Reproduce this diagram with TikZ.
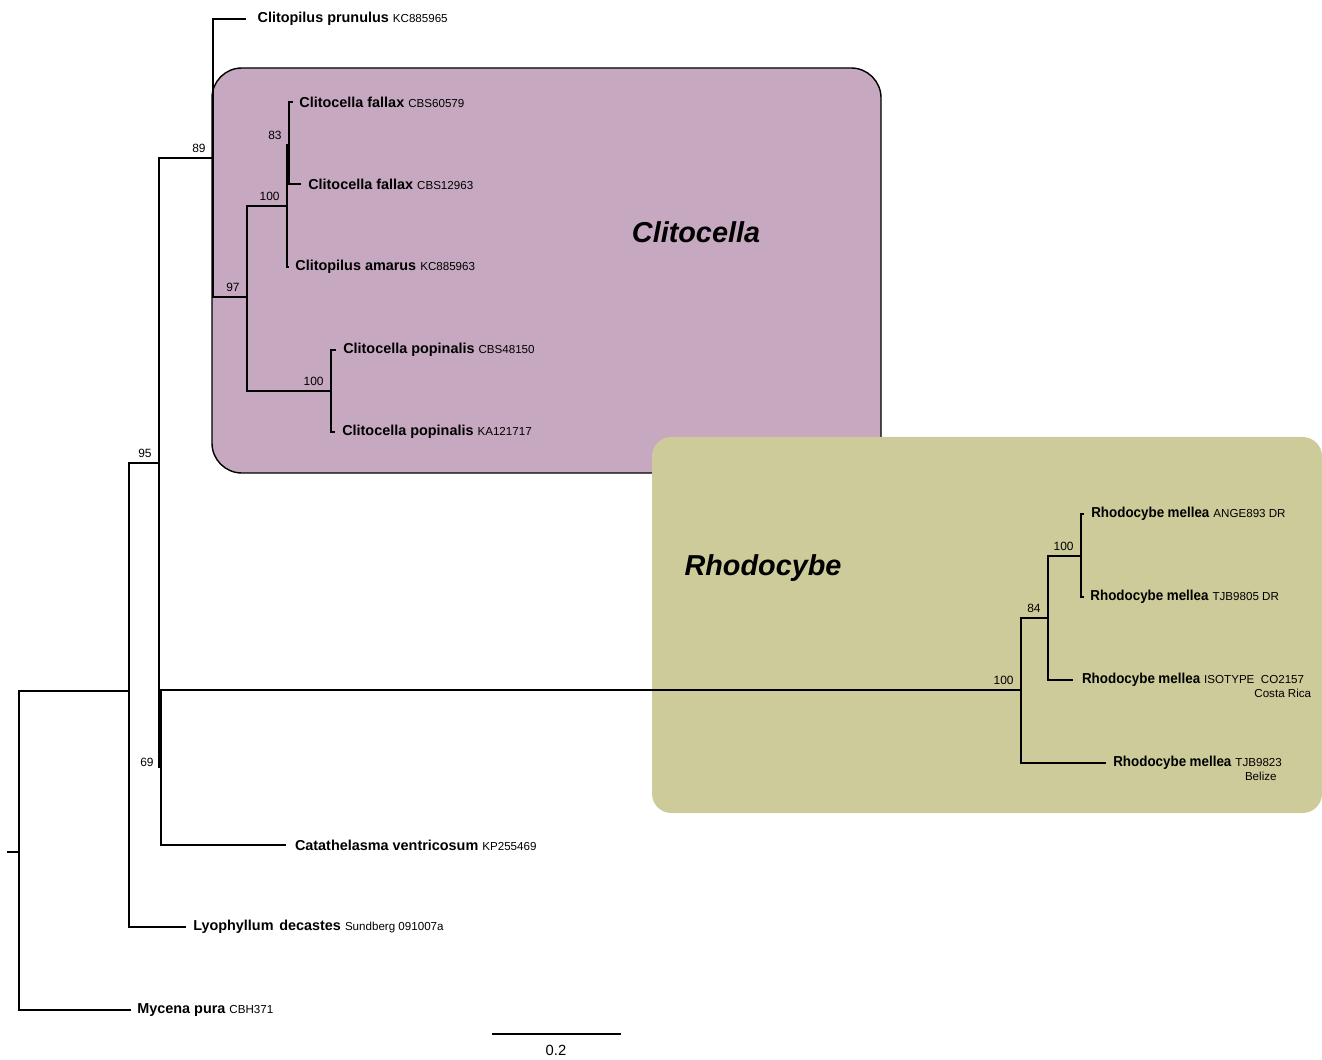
\documentclass[tikz,border=0pt]{standalone}
\usepackage{fontspec}
\setmainfont{Liberation Sans}
\newfontfamily\rhodofont[FakeStretch=0.93]{Liberation Sans}
\usepackage{tikz}
\usetikzlibrary{positioning}
\definecolor{clitofill}{RGB}{198,169,192}
\definecolor{rhodofill}{RGB}{204,203,153}
\newcommand{\acc}[1]{{\mdseries\fontsize{6.6}{7}\selectfont #1}}
\newcommand{\rmel}{{\rhodofont\bfseries Rhodocybe\hspace{2pt}mellea}}
\tikzstyle{branch}=[%
      draw=black, line width=0.8pt, line cap=rect, to path={|- (\tikztotarget) \tikztonodes}
]
\tikzstyle{taxon}=[%
      inner sep=0pt, font=\fontsize{8.2}{9}\selectfont\bfseries
]
\tikzstyle{bs}=[%
      inner sep=0pt, font=\fontsize{6.8}{7}\selectfont, anchor=south east, xshift=-4pt, yshift=3pt
]
\tikzstyle{cladebox}=[%
      draw=black, line width=0.8pt, fill=clitofill, rounded corners=17pt
]
\tikzstyle{cladebox2}=[%
      draw=none, fill=rhodofill, rounded corners=11pt
]
\tikzstyle{cladename}=[%
      inner sep=0pt, font=\fontsize{16.4}{18}\selectfont\bfseries\itshape
]

\begin{document}
\begin{tikzpicture}[x=0.02cm, y=-0.02cm, node distance=4.5pt]
    \useasboundingbox (0,0) rectangle (1322,1060);

    % clade boxes
    \draw[cladebox]  (212,68) rectangle (881,473);
    \draw[cladebox2] (652,437) rectangle (1322,813);
    \node[cladename] (clito) at (696,232) {Clitocella};
    \node[cladename] (rhodo) at (763,568) {Rhodocybe};

    % internal nodes
    \coordinate (stub)  at (8,852);
    \coordinate (root)  at (19,852);
    \coordinate (nLyo)  at (129,691);
    \coordinate (n95)   at (159,463);
    \coordinate (n89)   at (213,158);
    \coordinate (n97)   at (247,297);
    \coordinate (n100a) at (287,206);
    \coordinate (n83)   at (289,145);
    \coordinate (n100b) at (331,391);
    \coordinate (n69)   at (161,767);
    \coordinate (nRh)   at (1021,690);
    \coordinate (n84)   at (1048,618);
    \coordinate (n100c) at (1081,556);

    % tips
    \coordinate (tPru)  at (245,19);
    \coordinate (tFal1) at (292,102);
    \coordinate (tFal2) at (300,184);
    \coordinate (tAma)  at (288,267);
    \coordinate (tPop1) at (335,350);
    \coordinate (tPop2) at (334,432);
    \coordinate (tANG)  at (1083,514);
    \coordinate (tT05)  at (1083,597);
    \coordinate (tCO)   at (1072,680);
    \coordinate (tT23)  at (1105,763);
    \coordinate (tCat)  at (285,845);
    \coordinate (tLyo)  at (185,927);
    \coordinate (tMyc)  at (130,1010);

    \path (stub)  edge[branch] (root)
          (root)  edge[branch] (nLyo)
          (root)  edge[branch] (tMyc)
          (nLyo)  edge[branch] (n95)
          (nLyo)  edge[branch] (tLyo)
          (n95)   edge[branch] (n89)
          (n95)   edge[branch] (n69)
          (n89)   edge[branch] (tPru)
          (n89)   edge[branch] (n97)
          (n97)   edge[branch] (n100a)
          (n97)   edge[branch] (n100b)
          (n100a) edge[branch] (n83)
          (n100a) edge[branch] (tAma)
          (n83)   edge[branch] (tFal1)
          (n83)   edge[branch] (tFal2)
          (n100b) edge[branch] (tPop1)
          (n100b) edge[branch] (tPop2)
          (n69)   edge[branch] (nRh)
          (n69)   edge[branch] (tCat)
          (nRh)   edge[branch] (n84)
          (nRh)   edge[branch] (tT23)
          (n84)   edge[branch] (n100c)
          (n84)   edge[branch] (tCO)
          (n100c) edge[branch] (tANG)
          (n100c) edge[branch] (tT05)
    ;

    % taxon labels
    \node[taxon] (lPru)  [right = 7pt of tPru]  {Clitopilus prunulus \acc{KC885965}};
    \node[taxon] (lFal1) [right = 4pt of tFal1] {Clitocella fallax \acc{CBS60579}};
    \node[taxon] (lFal2) [right = of tFal2]     {Clitocella fallax \acc{CBS12963}};
    \node[taxon] (lAma)  [right = 4pt of tAma]  {Clitopilus amarus \acc{KC885963}};
    \node[taxon] (lPop1) [right = of tPop1]     {Clitocella popinalis \acc{CBS48150}};
    \node[taxon] (lPop2) [right = of tPop2]     {Clitocella popinalis \acc{KA121717}};
    \node[taxon] (lANG)  [right = of tANG]      {\rmel{} \acc{ANGE893 DR}};
    \node[taxon] (lT05)  [right = 4pt of tT05]  {\rmel{} \acc{TJB9805 DR}};
    \node[taxon] (lCO)   [right = 5.5pt of tCO] {\rmel{} \acc{ISOTYPE~ CO2157}};
    \node[taxon] (lT23)  [right = of tT23]      {\rmel{} \acc{TJB9823}};
    \node[taxon] (lCat)  [right = 5.5pt of tCat] {Catathelasma ventricosum \acc{KP255469}};
    \node[taxon] (lLyo)  [right = of tLyo]      {Lyophyllum\hspace{1pt} decastes \acc{Sundberg 091007a}};
    \node[taxon] (lMyc)  [right = 4pt of tMyc]  {Mycena pura \acc{CBH371}};
    \node[taxon, anchor=north east] (lCOloc)  at ([xshift=4pt, yshift=-1pt]lCO.south east)  {\acc{Costa Rica}};
    \node[taxon, anchor=north east] (lT23loc) at ([xshift=-3pt, yshift=-1pt]lT23.south east) {\acc{Belize}};

    % support values
    \node[bs] (b89)   at (n89)   {89};
    \node[bs] (b83)   at (n83)   {83};
    \node[bs] (b100a) at (n100a) {100};
    \node[bs] (b97)   at (n97)   {97};
    \node[bs] (b100b) at (n100b) {100};
    \node[bs] (b95)   at (n95)   {95};
    \node[bs] (b69)   at ([yshift=-3pt]n69) {69};
    \node[bs] (b100c) at (nRh)   {100};
    \node[bs] (b84)   at (n84)   {84};
    \node[bs] (b100d) at (n100c) {100};

    % scale bar
    \coordinate (sbL) at (492,1034);
    \coordinate (sbR) at (621,1034);
    \draw[line width=0.8pt] (sbL) -- (sbR);
    \node[inner sep=0pt, font=\fontsize{8.4}{9}\selectfont] (sblab) at (556,1050) {0.2};
\end{tikzpicture}
\end{document}
